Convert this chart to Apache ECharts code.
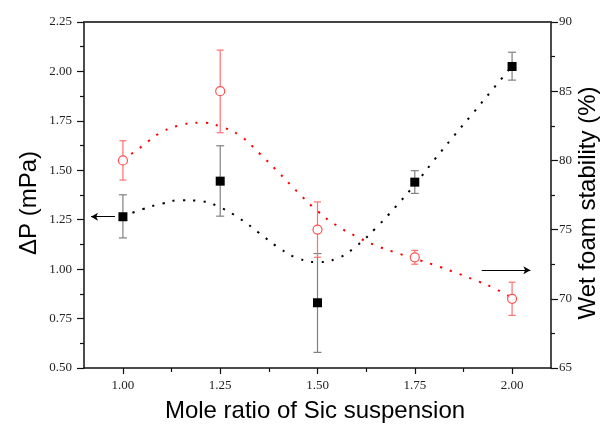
<!DOCTYPE html>
<html>
<head>
<meta charset="utf-8">
<script src="https://cdn.jsdelivr.net/npm/echarts@6/dist/echarts.min.js"></script>
<style>html,body{margin:0;padding:0;background:#fff}#c{width:609px;height:428px}</style>
</head>
<body>
<div id="c"></div>
<script>
// ---- data ----
var ratios = [1.00, 1.25, 1.50, 1.75, 2.00];
var dpValues = [1.265, 1.445, 0.83, 1.44, 2.025];
var dpLow = [1.158, 1.268, 0.579, 1.383, 1.956];
var dpHigh = [1.376, 1.624, 1.079, 1.498, 2.097];
var foamValues = [80.0, 85.0, 75.0, 73.0, 70.0];
var foamLow = [78.58, 82.0, 73.0, 72.5, 68.8];
var foamHigh = [81.42, 87.97, 77.0, 73.5, 71.2];
// fitted trend curves
var fitX = [1.00,1.05,1.10,1.15,1.20,1.25,1.30,1.35,1.40,1.45,1.50,1.55,1.60,1.65,1.70,1.75,1.80,1.85,1.90,1.95,2.00];
var dpFit = [1.266,1.303,1.331,1.349,1.344,1.312,1.256,1.183,1.109,1.055,1.036,1.054,1.117,1.208,1.314,1.428,1.552,1.673,1.790,1.909,2.027];
var foamFit = [80.03,81.04,82.05,82.56,82.73,82.45,81.80,80.53,79.13,77.68,76.34,75.28,74.50,73.85,73.35,72.90,72.44,71.94,71.40,70.82,70.05];
var xMajorTicks = [1.00, 1.25, 1.50, 1.75, 2.00];
var xMinorTicks = [1.125, 1.375, 1.625, 1.875];
var xTitle = 'Mole ratio of Sic suspension';
var yLeftTitle = 'ΔP (mPa)';
var yRightTitle = 'Wet foam stability (%)';
// arrows (data coords)
var leftArrow = [[0.9795, 1.265], [0.918, 1.265]];
var rightArrow = [[1.922, 72.06], [2.047, 72.06]];

function zip(a, b) { return a.map(function (v, i) { return [v, b[i]]; }); }
function zip3(a, b, c) { return a.map(function (v, i) { return [v, b[i], c[i]]; }); }

function errRender(color, cap) {
  return function (params, api) {
    var x = api.value(0), lo = api.value(1), hi = api.value(2);
    var p1 = api.coord([x, lo]), p2 = api.coord([x, hi]);
    var st = { stroke: color, lineWidth: 1.2 };
    return {
      type: 'group',
      children: [
        { type: 'line', shape: { x1: p1[0], y1: p1[1], x2: p2[0], y2: p2[1] }, style: st },
        { type: 'line', shape: { x1: p1[0] - cap, y1: p1[1], x2: p1[0] + cap, y2: p1[1] }, style: st },
        { type: 'line', shape: { x1: p2[0] - cap, y1: p2[1], x2: p2[0] + cap, y2: p2[1] }, style: st }
      ]
    };
  };
}

var tickFont = { fontFamily: 'Liberation Serif', fontSize: 13, color: '#222' };
var titleFont = 'Liberation Sans';

var chart = echarts.init(document.getElementById('c'), null, { renderer: 'canvas' });
chart.setOption({
  animation: false,
  backgroundColor: '#fff',
  grid: { left: 84, right: 58, top: 22, bottom: 60 },
  xAxis: [
    {
      type: 'value', min: 0.9, max: 2.1, position: 'bottom',
      splitLine: { show: false },
      axisLine: { lineStyle: { color: '#111', width: 1.5 } },
      axisTick: { show: true, customValues: xMajorTicks, length: 6, lineStyle: { color: '#111', width: 1.2 } },
      axisLabel: Object.assign({ customValues: xMajorTicks, margin: 11, formatter: function (v) { return v.toFixed(2); } }, tickFont)
    },
    {
      type: 'value', min: 0.9, max: 2.1, position: 'top',
      splitLine: { show: false },
      axisLine: { show: true, lineStyle: { color: '#444', width: 2 } },
      axisTick: { show: false }, axisLabel: { show: false }
    },
    {
      type: 'value', min: 0.9, max: 2.1, position: 'bottom',
      splitLine: { show: false },
      axisLine: { show: false },
      axisTick: { show: true, customValues: xMinorTicks, length: 4, lineStyle: { color: '#111', width: 1.2 } },
      axisLabel: { show: false }
    }
  ],
  yAxis: [
    {
      type: 'value', min: 0.5, max: 2.25, interval: 0.25, position: 'left',
      splitLine: { show: false },
      axisLine: { show: true, lineStyle: { color: '#111', width: 1.5 } },
      axisTick: { show: true, length: 7, lineStyle: { color: '#111', width: 1.2 } },
      minorTick: { show: true, splitNumber: 2, length: 4, lineStyle: { color: '#111', width: 1.2 } },
      axisLabel: Object.assign({ margin: 12, formatter: function (v) { return v.toFixed(2); } }, tickFont)
    },
    {
      type: 'value', min: 65, max: 90, interval: 5, position: 'right',
      splitLine: { show: false },
      axisLine: { show: true, lineStyle: { color: '#111', width: 1.5 } },
      axisTick: { show: true, length: 7, lineStyle: { color: '#111', width: 1.2 } },
      minorTick: { show: true, splitNumber: 2, length: 4, lineStyle: { color: '#111', width: 1.2 } },
      axisLabel: Object.assign({ margin: 8 }, tickFont)
    }
  ],
  graphic: [
    { type: 'text', x: 315, y: 411, style: { text: xTitle, font: '24px ' + titleFont, fill: '#000', textAlign: 'center', textVerticalAlign: 'middle' } },
    { type: 'text', x: 29, y: 203, rotation: Math.PI / 2, style: { text: yLeftTitle, font: '24px ' + titleFont, fill: '#000', textAlign: 'center', textVerticalAlign: 'middle' } },
    { type: 'text', x: 588, y: 203, rotation: Math.PI / 2, style: { text: yRightTitle, font: '24px ' + titleFont, fill: '#000', textAlign: 'center', textVerticalAlign: 'middle' } }
  ],
  series: [
    {
      type: 'line', name: 'dpFit', data: zip(fitX, dpFit), smooth: true, showSymbol: false, symbol: 'none',
      lineStyle: { color: '#000', width: 2, type: [2.2, 8.2] }, z: 2,
      markLine: {
        silent: true, symbol: ['none', 'arrow'], symbolSize: [6, 7], label: { show: false },
        lineStyle: { color: '#000', width: 1, type: 'solid' },
        data: [[{ coord: leftArrow[0] }, { coord: leftArrow[1] }]]
      }
    },
    {
      type: 'line', name: 'foamFit', yAxisIndex: 1, data: zip(fitX, foamFit), smooth: true, showSymbol: false, symbol: 'none',
      lineStyle: { color: '#ff0000', width: 2, type: [2.2, 8.2] }, z: 2,
      markLine: {
        silent: true, symbol: ['none', 'arrow'], symbolSize: [6, 7], label: { show: false },
        lineStyle: { color: '#000', width: 1, type: 'solid' },
        data: [[{ coord: rightArrow[0] }, { coord: rightArrow[1] }]]
      }
    },
    {
      type: 'custom', name: 'dpErr', data: zip3(ratios, dpLow, dpHigh), encode: { x: 0, y: [1, 2] },
      renderItem: errRender('#808080', 4), z: 3
    },
    {
      type: 'custom', name: 'foamErr', yAxisIndex: 1, data: zip3(ratios, foamLow, foamHigh), encode: { x: 0, y: [1, 2] },
      renderItem: errRender('#ff7070', 3.5), z: 3
    },
    {
      type: 'line', name: 'ΔP', data: zip(ratios, dpValues), symbol: 'rect', symbolSize: 9,
      lineStyle: { width: 0, opacity: 0 }, itemStyle: { color: '#000' }, z: 5
    },
    {
      type: 'line', name: 'Wet foam stability', yAxisIndex: 1, data: zip(ratios, foamValues), symbol: 'circle', symbolSize: 9,
      lineStyle: { width: 0, opacity: 0 }, itemStyle: { color: '#fff', borderColor: '#ff5050', borderWidth: 1.2 }, z: 5
    }
  ]
});
</script>
</body>
</html>
